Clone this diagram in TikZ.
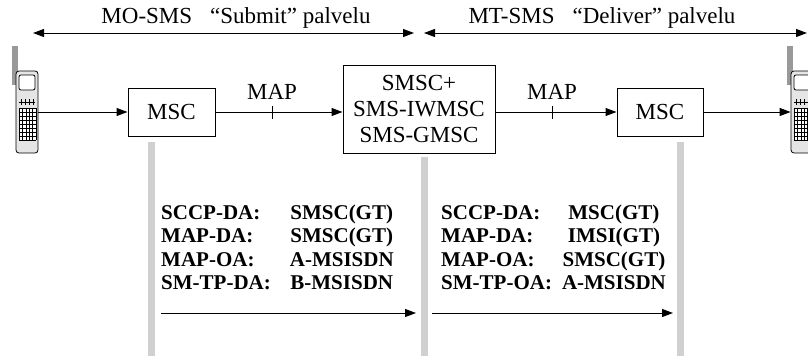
\documentclass[tikz,border=0pt]{standalone}
\usepackage{fontspec}
\setmainfont{Liberation Serif}
\usetikzlibrary{arrows.meta}

\begin{document}
\begin{tikzpicture}[x=1pt,y=-1pt,
	box/.style={draw,line width=1pt,inner sep=0pt,font=\fontsize{23}{26}\selectfont},
	pfeil/.style={-{Triangle[length=11pt,width=8pt]},line width=1pt},
	dpfeil/.style={{Triangle[length=11pt,width=8pt]}-{Triangle[length=11pt,width=8pt]},line width=1pt},
	tafel/.style={anchor=north west,inner sep=0pt,font=\fontsize{21}{23.5}\selectfont\bfseries}]
\clip (0,0) rectangle (808,356);

\def\handy#1#2{%
\begin{scope}[shift={(#2,0)}]
\fill[gray!80] (12,46) rectangle (18,85);
\node[draw,line width=0.8pt,rounded corners=3pt,fill=gray!20,inner sep=0pt,
	minimum width=22pt,minimum height=82pt] (#1) at (27,112) {};
\draw[line width=0.8pt,rounded corners=2pt,fill=white] (19,75) rectangle (35,90);
\draw[line width=0.5pt] (19,102)--(35,102);
\foreach \x in {21,25,29,33} \draw[line width=0.5pt] (\x,99)--(\x,105);
\fill[white] (19,108) rectangle (36,140);
\foreach \x in {19,22.4,25.8,29.2,32.6,36} \draw[line width=0.5pt] (\x,108)--(\x,140);
\foreach \y in {108,112,116,120,124,128,132,136,140} \draw[line width=0.5pt] (19,\y)--(36,\y);
\end{scope}
}

% Endgeraete
\handy{ms1}{0}
\handy{ms2}{775}

% Netzelemente
\node[box,minimum width=87pt,minimum height=48pt] (msc1) at (171.5,112) {MSC};
\node[box,minimum width=152pt,minimum height=88pt,align=center] (smsc) at (419,109)
	{SMSC+\\SMS-IWMSC\\SMS-GMSC};
\node[box,minimum width=86pt,minimum height=48pt] (msc2) at (660,112) {MSC};

\draw[pfeil] (ms1.east)--(ms1.east -| msc1.west);
\draw[pfeil] (msc1.east)--(msc1.east -| smsc.west);
\draw[pfeil] (smsc.east |- msc2.west)--(msc2.west);
\draw[pfeil] (msc2.east)--(msc2.east -| ms2.west);

% MAP
\coordinate (m1) at (272,112);
\coordinate (m2) at (552,112);
\draw[line width=1pt] (m1) +(0,-6.5)--+(0,6.5);
\draw[line width=1pt] (m2) +(0,-6.5)--+(0,6.5);
\node[font=\fontsize{23}{26}\selectfont] (map1) at (272,92) {MAP};
\node[font=\fontsize{23}{26}\selectfont] (map2) at (552,92) {MAP};

% Dienste
\coordinate (A) at (33,33);
\coordinate (B) at (414,33);
\coordinate (C) at (424,33);
\coordinate (D) at (807,33);
\draw[dpfeil] (A)--(B);
\draw[dpfeil] (C)--(D);
\node[font=\fontsize{23}{26}\selectfont] (mo) at (236,18) {MO-SMS\hspace{18pt}“Submit” palvelu};
\node[font=\fontsize{23}{26}\selectfont] (mt) at (602,18) {MT-SMS\hspace{18pt}“Deliver” palvelu};

% Balken
\fill[gray!37] (147.5,142) rectangle (154.5,356);
\fill[gray!37] (420.5,157) rectangle (427.5,356);
\fill[gray!37] (676.5,142) rectangle (683.5,356);

% Adressen
\node[tafel] (t1) at (161,202.5) {%
\begin{tabular}{@{}l@{\hspace{19pt}}c@{}}
SCCP-DA: & SMSC(GT)\\
MAP-DA: & SMSC(GT)\\
MAP-OA: & A-MSISDN\\
SM-TP-DA: & B-MSISDN
\end{tabular}};
\node[tafel] (t2) at (441,202.5) {%
\begin{tabular}{@{}l@{\hspace{10pt}}c@{}}
SCCP-DA: & MSC(GT)\\
MAP-DA: & IMSI(GT)\\
MAP-OA: & SMSC(GT)\\
SM-TP-OA: & A-MSISDN
\end{tabular}};

\coordinate (a1) at (161,313);
\coordinate (b1) at (416,313);
\coordinate (a2) at (432,313);
\coordinate (b2) at (673,313);
\draw[pfeil] (a1)--(b1);
\draw[pfeil] (a2)--(b2);

\end{tikzpicture}
\end{document}
